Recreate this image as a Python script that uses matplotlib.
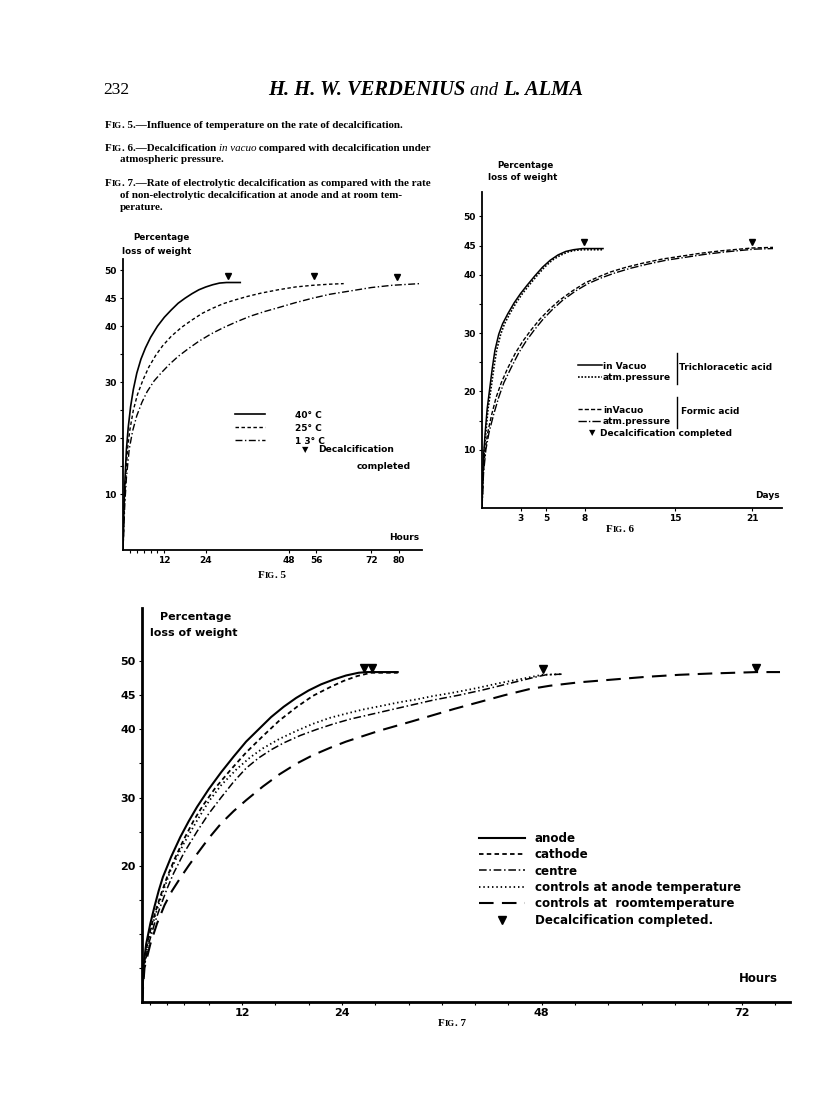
import matplotlib
matplotlib.use("Agg")
import matplotlib.pyplot as plt
from matplotlib.lines import Line2D

W, H = 816, 1112
fig = plt.figure(figsize=(W / 100, H / 100), dpi=100)
fig.patch.set_facecolor("white")

SANS = "DejaVu Sans"
SERIF = "Liberation Serif"

# ======================================================
# data read from the page
# ======================================================
# Fig. 5 - hours vs percentage loss of weight
f5_40_h = [0, 0.3, 0.6, 1, 1.5, 2.2, 3, 4, 5.2, 6.5, 8, 10, 12, 14, 16, 18, 20, 22, 24, 26, 28, 30, 34]
f5_40_p = [0, 8, 13, 18, 21.8, 25.6, 28.7, 31.6, 34.1, 36.1, 38, 40, 41.6, 42.9, 44.1, 45, 45.8, 46.5,
           47, 47.4, 47.7, 47.8, 47.8]
f5_25_h = [0, 0.4, 0.8, 1.3, 2, 3, 4.2, 5.8, 7.5, 9.5, 11.5, 14, 17, 20, 23, 26, 29, 32, 36, 40, 45,
           50, 55, 60, 64]
f5_25_p = [0, 8, 13, 18, 21.5, 25, 27.8, 30.4, 32.7, 34.8, 36.5, 38.2, 39.8, 41.1, 42.3, 43.2, 44,
           44.6, 45.3, 45.9, 46.5, 47, 47.3, 47.5, 47.6]
f5_13_h = [0, 0.5, 1, 1.8, 2.8, 4, 5.5, 7, 9, 11, 13.5, 16, 19, 22, 25.5, 29, 33, 37, 41, 45, 50, 55,
           60, 66, 72, 78, 86]
f5_13_p = [0, 8, 13, 18, 21.3, 24, 26.4, 28.3, 30.2, 31.6, 33.2, 34.6, 36, 37.3, 38.6, 39.7, 40.8,
           41.8, 42.6, 43.3, 44.2, 45, 45.7, 46.3, 46.9, 47.3, 47.6]
f5_done_h = [30.5, 55.5, 79.5]
f5_done_p = [48.9, 48.9, 48.8]
f5_xticks = [12, 24, 48, 56, 72, 80]
f5_yticks = [10, 20, 30, 40, 45, 50]

# Fig. 6 - days vs percentage loss of weight
f6_tv_d = [0, 0.05, 0.12, 0.25, 0.4, 0.6, 0.8, 1.0, 1.3, 1.6, 2, 2.5, 3, 3.5, 4.1, 4.7, 5.3, 5.9,
           6.5, 7.1, 7.8, 9.4]
f6_tv_p = [0, 5, 9, 13, 17, 20.5, 24, 27, 29.8, 31.6, 33.3, 35.2, 36.8, 38.2, 39.8, 41.3, 42.5, 43.4,
           44, 44.3, 44.5, 44.5]
f6_ta_d = [0, 0.06, 0.15, 0.3, 0.47, 0.7, 0.92, 1.13, 1.45, 1.75, 2.15, 2.65, 3.15, 3.65, 4.25, 4.85,
           5.45, 6.05, 6.65, 7.25, 7.9, 9.4]
f6_ta_p = [0, 5, 9, 13, 17, 20.5, 24, 27, 29.8, 31.6, 33.3, 35.2, 36.8, 38.2, 39.8, 41.3, 42.5, 43.3,
           43.9, 44.2, 44.3, 44.3]
f6_fv_d = [0, 0.1, 0.25, 0.45, 0.75, 1.1, 1.5, 2, 2.6, 3.2, 3.8, 4.5, 5.2, 6, 7, 8, 9, 10, 11.2, 12.5,
           14, 15.5, 17, 18.5, 20, 21, 22.6]
f6_fv_p = [0, 6, 10, 13, 16, 19, 21.5, 24, 26.6, 28.7, 30.5, 32.4, 34, 35.6, 37.2, 38.6, 39.6, 40.5,
           41.3, 42, 42.7, 43.2, 43.7, 44.1, 44.4, 44.6, 44.7]
f6_fa_d = [0, 0.12, 0.3, 0.55, 0.9, 1.3, 1.7, 2.25, 2.85, 3.45, 4.05, 4.75, 5.45, 6.25, 7.25, 8.25, 9.3,
           10.3, 11.5, 12.8, 14.3, 15.8, 17.3, 18.8, 20.2, 21.2, 22.6]
f6_fa_p = [0, 6, 10, 13, 16, 19, 21.5, 24, 26.6, 28.7, 30.5, 32.4, 34, 35.6, 37.2, 38.5, 39.5, 40.3,
           41.1, 41.8, 42.5, 43, 43.5, 43.9, 44.2, 44.4, 44.5]
f6_done_d = [7.9, 21.0]
f6_done_p = [45.6, 45.6]
f6_xticks = [3, 5, 8, 15, 21]
f6_yticks = [10, 20, 30, 40, 45, 50]

# Fig. 7 - hours vs percentage loss of weight
f7_anode_h = [0, 0.15, 0.5, 1, 1.5, 2, 2.5, 3.5, 4.6, 5.6, 6.6, 8, 9.5, 11, 12.5, 14, 15.5, 17, 18.5,
              20, 21.5, 23, 24.5, 26, 27, 30.7]
f7_anode_p = [0, 5, 8.5, 11.5, 14, 16.3, 18.3, 21.3, 24.2, 26.5, 28.6, 31.2, 33.7, 36, 38.2, 40, 41.8,
              43.3, 44.6, 45.7, 46.6, 47.3, 47.9, 48.3, 48.4, 48.4]
f7_cath_h = [0, 0.2, 0.6, 1.2, 1.8, 2.4, 3, 4, 5, 6.2, 7.3, 8.8, 10.6, 12.5, 14.5, 16.5, 18.6, 20.5,
             22.6, 24.2, 25.8, 27.5, 30.7]
f7_cath_p = [0, 5, 8.5, 11.5, 14, 16.2, 18.3, 21.2, 23.8, 26.6, 28.8, 31.4, 34, 36.6, 39, 41.3, 43.3,
             44.9, 46.2, 47.1, 47.8, 48.3, 48.3]
f7_centre_h = [0, 0.25, 0.8, 1.5, 2.2, 3, 3.8, 5, 6.6, 8, 9.5, 11, 12.5, 14, 15.5, 17, 19, 21, 23, 25,
               27.5, 30, 32.5, 35, 38, 41, 44, 47, 48.5, 50.5]
f7_centre_p = [0, 5, 8.5, 11.5, 14, 16.6, 18.9, 21.8, 25, 27.6, 30, 32.3, 34.3, 35.8, 37, 38, 39.1, 40,
               40.8, 41.5, 42.2, 42.9, 43.6, 44.3, 45, 45.8, 46.7, 47.6, 48, 48.1]
f7_ctrl_h = [0, 0.2, 0.7, 1.3, 2, 2.7, 3.4, 4.2, 5, 6.6, 8, 9.5, 11.4, 13, 14.5, 16.5, 18.6, 20.5, 22.6,
             24.5, 26.5, 29, 31, 33, 35, 37, 40, 43, 46, 48, 50.5]
f7_ctrl_p = [0, 5, 8.5, 11.5, 14.3, 16.8, 19.2, 21.3, 23.2, 26.6, 29.4, 31.8, 34.2, 35.9, 37.2, 38.6,
             39.8, 40.8, 41.7, 42.3, 42.9, 43.5, 44, 44.4, 44.9, 45.3, 46, 46.8, 47.5, 48, 48.1]
f7_room_h = [0, 0.3, 1, 1.8, 2.7, 3.6, 4.6, 5.6, 6.6, 8, 9.5, 11, 12.5, 14.5, 16.5, 18.6, 20.5, 22.6,
             24.5, 26.5, 28.5, 30.5, 32.5, 35, 37.5, 40.5, 43.5, 46.5, 49, 52.5, 56.5, 60.5, 64.5,
             68.5, 73.8, 76.6]
f7_room_p = [0, 5, 8.5, 11.5, 14.2, 16.3, 18.2, 20, 21.7, 24, 26.2, 28, 29.6, 31.6, 33.4, 35, 36.2,
             37.3, 38.2, 39, 39.8, 40.5, 41.2, 42.1, 43, 44, 45, 45.9, 46.4, 46.9, 47.3, 47.7, 48,
             48.2, 48.4, 48.4]
f7_done_h = [26.6, 27.6, 48.1, 73.7]
f7_done_p = [49.0, 49.0, 48.9, 49.0]
f7_xticks = [12, 24, 48, 72]
f7_yticks = [20, 30, 40, 45, 50]


def px_axes(left, top, right, bottom):
    return fig.add_axes([left / W, 1 - bottom / H, (right - left) / W, (bottom - top) / H])


def ftext(x, y, s, **kw):
    kw.setdefault("va", "center")
    return fig.text(x / W, 1 - y / H, s, **kw)


renderer = fig.canvas.get_renderer()


def chain(x, y, pieces):
    # write several text pieces one after the other on a line
    for s, kw in pieces:
        t = ftext(x, y, s, va="baseline", **kw)
        x += t.get_window_extent(renderer=renderer).width


def style_axes(ax, xlim, ylim, xt, yt, xminor, yminor, fs, lw):
    ax.set_xlim(*xlim)
    ax.set_ylim(*ylim)
    for s in ["top", "right"]:
        ax.spines[s].set_visible(False)
    for s in ["left", "bottom"]:
        ax.spines[s].set_linewidth(lw)
    ax.set_xticks(xt)
    ax.set_yticks(yt)
    ax.set_xticks(xminor, minor=True)
    ax.set_yticks(yminor, minor=True)
    ax.set_xticklabels([str(v) for v in xt], fontfamily=SANS, fontweight="bold", fontsize=fs)
    ax.set_yticklabels([str(v) for v in yt], fontfamily=SANS, fontweight="bold", fontsize=fs)
    ax.tick_params(which="both", direction="out", length=2.5, width=0.8, pad=2)
    ax.patch.set_alpha(0)


# ======================================================
# header and captions
# ======================================================
ftext(103, 90, "232", fontfamily=SERIF, fontsize=12.5)
hb = dict(fontfamily=SERIF, fontsize=14.8, fontweight="bold", fontstyle="italic")
hi = dict(fontfamily=SERIF, fontsize=13.5, fontstyle="italic")
chain(268, 95, [("H. H. W. VERDENIUS ", hb), ("and ", hi), ("L. ALMA", hb)])

cap = dict(fontfamily=SERIF, fontsize=7.9, fontweight="bold")
sc = dict(fontfamily=SERIF, fontsize=6.2, fontweight="bold")
capi = dict(fontfamily=SERIF, fontsize=7.9, fontstyle="italic")
chain(105, 128, [("F", cap), ("IG", sc), (". 5.\u2014Influence of temperature on the rate of decalcification.", cap)])
chain(105, 151, [("F", cap), ("IG", sc), (". 6.\u2014Decalcification ", cap), ("in vacuo", capi),
                 (" compared with decalcification under", cap)])
chain(120, 162, [("atmospheric pressure.", cap)])
chain(105, 186, [("F", cap), ("IG", sc), (". 7.\u2014Rate of electrolytic decalcification as compared with the rate", cap)])
chain(120, 198, [("of non-electrolytic decalcification at anode and at room tem-", cap)])
chain(120, 210, [("perature.", cap)])

# ======================================================
# Fig. 5
# ======================================================
ax5 = px_axes(123, 259, 422, 550)
ax5.plot(f5_40_h, f5_40_p, color="black", lw=1.2, ls="-", label="40\u00b0 C")
ax5.plot(f5_25_h, f5_25_p, color="black", lw=1.0, ls=(0, (2.5, 1.8)), label="25\u00b0 C")
ax5.plot(f5_13_h, f5_13_p, color="black", lw=1.0, ls=(0, (5, 1.8, 1, 1.8)), label="1 3\u00b0 C")
ax5.plot(f5_done_h, f5_done_p, ls="none", marker="v", ms=4.5, color="black")
style_axes(ax5, (0, 86.7), (0, 52), f5_xticks, f5_yticks,
           [2, 4, 6, 8, 10], [15, 25, 35], 6.5, 1.3)
ax5.legend(loc="upper left", bbox_to_anchor=(230 / W, 1 - 406 / H),
           bbox_transform=fig.transFigure, frameon=False, borderpad=0,
           handlelength=3.4, handletextpad=3.3, labelspacing=0.45,
           prop={"family": SANS, "weight": "bold", "size": 6.5})
ftext(305, 450, "\u25bc", fontsize=6, ha="center", fontfamily=SANS)
ftext(318, 450, "Decalcification", fontfamily=SANS, fontweight="bold", fontsize=6.6)
ftext(357, 466, "completed", fontfamily=SANS, fontweight="bold", fontsize=6.6)
ftext(161, 238, "Percentage", ha="center", fontfamily=SANS, fontweight="bold", fontsize=6.3)
ftext(157, 252, "loss of weight", ha="center", fontfamily=SANS, fontweight="bold", fontsize=6.3)
ftext(404, 537, "Hours", ha="center", fontfamily=SANS, fontweight="bold", fontsize=6.5)
chain(258, 578, [("F", cap), ("IG", sc), (". 5", cap)])

# ======================================================
# Fig. 6
# ======================================================
ax6 = px_axes(482, 192, 782, 508)
l1, = ax6.plot(f6_tv_d, f6_tv_p, color="black", lw=1.1, ls="-")
l2, = ax6.plot(f6_ta_d, f6_ta_p, color="black", lw=1.2, ls=(0, (1, 1)))
l3, = ax6.plot(f6_fv_d, f6_fv_p, color="black", lw=1.0, ls=(0, (3, 1.5)))
l4, = ax6.plot(f6_fa_d, f6_fa_p, color="black", lw=1.0, ls=(0, (6, 1.5, 1, 1.5)))
ax6.plot(f6_done_d, f6_done_p, ls="none", marker="v", ms=4.5, color="black")
style_axes(ax6, (0, 23.3), (0, 54.2), f6_xticks, f6_yticks,
           [], [15, 25, 35], 6.5, 1.3)
lp6 = {"family": SANS, "weight": "bold", "size": 6.5}
lg6a = ax6.legend([l1, l2], ["in Vacuo", "atm.pressure"], loc="upper left",
                  bbox_to_anchor=(573 / W, 1 - 357 / H), bbox_transform=fig.transFigure,
                  frameon=False, borderpad=0, handlelength=2.7, handletextpad=0.1,
                  labelspacing=0.25, prop=lp6)
ax6.add_artist(lg6a)
ax6.legend([l3, l4], ["inVacuo", "atm.pressure"], loc="upper left",
           bbox_to_anchor=(573 / W, 1 - 401 / H), bbox_transform=fig.transFigure,
           frameon=False, borderpad=0, handlelength=2.7, handletextpad=0.1,
           labelspacing=0.25, prop=lp6)
fig.add_artist(Line2D([677 / W, 677 / W], [1 - 353 / H, 1 - 384 / H], color="black", lw=1.0))
fig.add_artist(Line2D([677 / W, 677 / W], [1 - 397 / H, 1 - 428 / H], color="black", lw=1.0))
ftext(679, 368, "Trichloracetic acid", fontfamily=SANS, fontweight="bold", fontsize=6.5)
ftext(681, 412, "Formic acid", fontfamily=SANS, fontweight="bold", fontsize=6.5)
ftext(592, 433, "\u25bc", fontsize=6, ha="center", fontfamily=SANS)
ftext(600, 433, "Decalcification completed", fontfamily=SANS, fontweight="bold", fontsize=6.5)
ftext(525, 165, "Percentage", ha="center", fontfamily=SANS, fontweight="bold", fontsize=6.3)
ftext(523, 178, "loss of weight", ha="center", fontfamily=SANS, fontweight="bold", fontsize=6.3)
ftext(767, 495, "Days", ha="center", fontfamily=SANS, fontweight="bold", fontsize=6.5)
chain(606, 532, [("F", cap), ("IG", sc), (". 6", cap)])

# ======================================================
# Fig. 7
# ======================================================
ax7 = px_axes(142, 608, 790, 1002)
ax7.plot(f7_anode_h, f7_anode_p, color="black", lw=1.5, ls="-", label="anode")
ax7.plot(f7_cath_h, f7_cath_p, color="black", lw=1.3, ls=(0, (2.5, 1.8)), label="cathode")
ax7.plot(f7_centre_h, f7_centre_p, color="black", lw=1.1, ls=(0, (5, 1.8, 1, 1.8)), label="centre")
ax7.plot(f7_ctrl_h, f7_ctrl_p, color="black", lw=1.3, ls=(0, (0.8, 1.6)),
         label="controls at anode temperature")
ax7.plot(f7_room_h, f7_room_p, color="black", lw=1.5, ls=(0, (7, 4)),
         label="controls at  roomtemperature")
ax7.plot(f7_done_h, f7_done_p, ls="none", marker="v", ms=6, color="black",
         label="Decalcification completed.")
style_axes(ax7, (0, 77.8), (0, 57.8), f7_xticks, f7_yticks,
           [1, 3, 5, 8, 16, 20, 28, 32, 36, 40, 44, 52, 56, 60, 64, 68, 76], [5, 10, 15, 25, 35],
           8, 2.0)
ax7.legend(loc="upper left", bbox_to_anchor=(473 / W, 1 - 826 / H),
           bbox_transform=fig.transFigure, frameon=False, borderpad=0,
           handlelength=3.85, handletextpad=0.8, labelspacing=0.28,
           prop={"family": SANS, "weight": "bold", "size": 8.6})
ftext(196, 617, "Percentage", ha="center", fontfamily=SANS, fontweight="bold", fontsize=8)
ftext(194, 633, "loss of weight", ha="center", fontfamily=SANS, fontweight="bold", fontsize=8)
ftext(758, 978, "Hours", ha="center", fontfamily=SANS, fontweight="bold", fontsize=8.5)
chain(438, 1026, [("F", cap), ("IG", sc), (". 7", cap)])

fig.savefig("out.png", dpi=100, facecolor="white")
